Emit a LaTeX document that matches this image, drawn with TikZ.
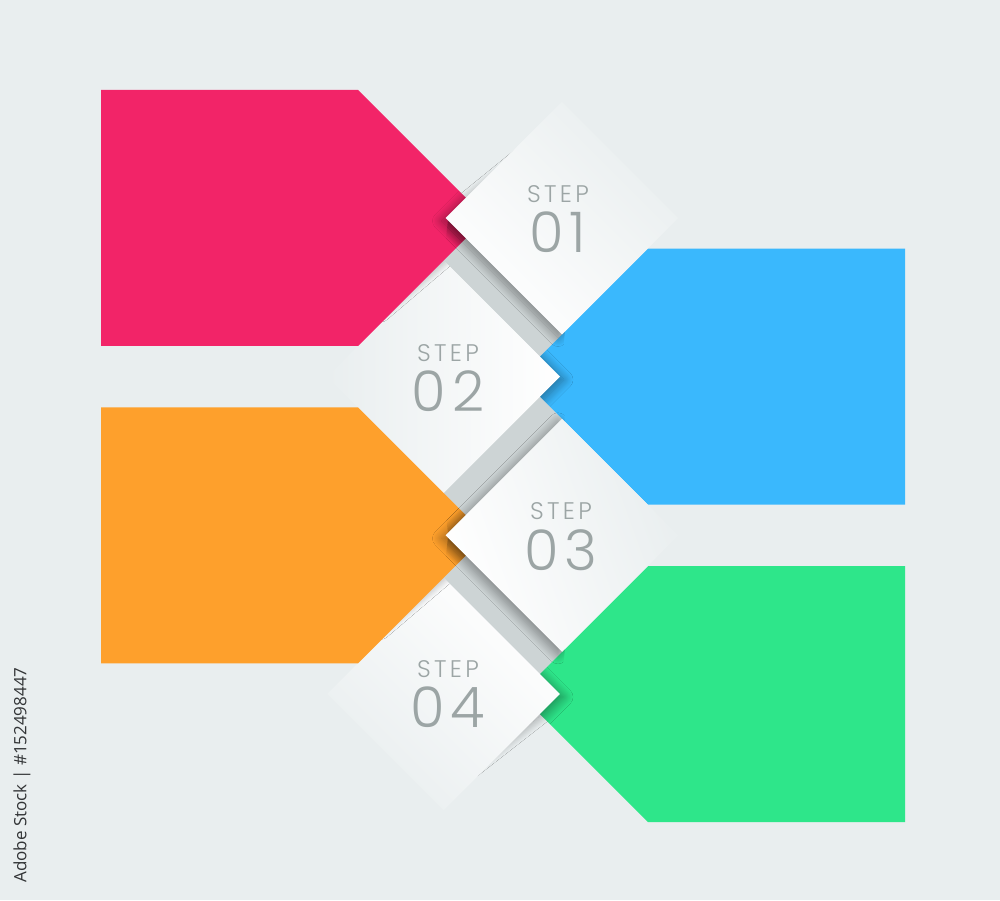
\documentclass[tikz,border=0pt]{standalone}
\usepackage{fontspec}
\newfontfamily\steplabelfont{Poppins Light}[LetterSpace=14]
\newfontfamily\stepnumberfont{Poppins Light}[LetterSpace=10]
\newfontfamily\markfont{Open Sans}
\usepackage{xcolor}
\definecolor{bg}{RGB}{233,238,239}
\definecolor{gap-grey}{RGB}{205,212,213}
\definecolor{label-grey}{RGB}{156,165,165}
\definecolor{mark-grey}{RGB}{50,52,54}
\definecolor{step-pink}{RGB}{242,36,104}
\definecolor{step-blue}{RGB}{58,184,253}
\definecolor{step-orange}{RGB}{254,160,44}
\definecolor{step-green}{RGB}{46,230,138}
\usetikzlibrary{calc,positioning,shapes.geometric,shadows.blur}
\tikzset{
  gap-fill/.style={
    fill=gap-grey
  },
  card-fill/.style={
    fill=#1
  },
  tile/.style={
    shape=diamond,
    minimum width=233pt,
    minimum height=233pt,
    inner sep=0pt,
    draw=none,
    left color=white,
    right color=bg
  },
  soft-shadow/.style={
    blur shadow={shadow xshift=#1, shadow yshift=-3pt, shadow blur radius=9pt, shadow opacity=38, shadow blur steps=16}
  },
  step-label/.style={
    inner sep=0pt,
    text=label-grey,
    font=\steplabelfont\fontsize{24}{28}\selectfont
  },
  step-number/.style={
    inner sep=0pt,
    text=label-grey,
    font=\stepnumberfont\fontsize{56}{60}\selectfont
  },
  mark-label/.style={
    inner sep=0pt,
    text=mark-grey,
    font=\markfont\fontsize{17}{19}\selectfont
  },
}

\begin{document}
\begin{tikzpicture}[x=1pt, y=1pt]

  \def\YONE{682}
  \def\YDELTA{158.67}
  \def\HALF{128}
  \def\TILE{116.5}

  \def\YTWO{\YONE-\YDELTA}
  \def\YTHREE{\YTWO-\YDELTA}
  \def\YFOUR{\YTHREE-\YDELTA}

  \def\XLEFT{101}
  \def\XLEFTEDGE{358}
  \def\XLEFTTIP{486}
  \def\XRIGHT{905}
  \def\XRIGHTEDGE{648}
  \def\XRIGHTTIP{520}
  \def\XTILEA{562}
  \def\XTILEB{443.5}

  \def\leftcard#1{(\XLEFT, #1+\HALF) -- (\XLEFTEDGE, #1+\HALF) -- (\XLEFTTIP, #1) -- (\XLEFTEDGE, #1-\HALF) -- (\XLEFT, #1-\HALF) -- cycle}
  \def\rightcard#1{(\XRIGHT, #1+\HALF) -- (\XRIGHTEDGE, #1+\HALF) -- (\XRIGHTTIP, #1) -- (\XRIGHTEDGE, #1-\HALF) -- (\XRIGHT, #1-\HALF) -- cycle}
  \def\tilepath#1{($(#1)+(\TILE,0)$) -- ($(#1)+(0,\TILE)$) -- ($(#1)+(-\TILE,0)$) -- ($(#1)+(0,-\TILE)$) -- cycle}
  \def\cardpoint#1{(\XLEFTTIP, #1) -- (378, #1-92) -- (410, #1) -- cycle}

  \useasboundingbox (0,0) rectangle (1000,900);
  \fill[bg] (0,0) rectangle (1000,900);

  \coordinate (t1) at (\XTILEA, \YONE);
  \coordinate (t2) at (\XTILEB, \YTWO);
  \coordinate (t3) at (\XTILEA, \YTHREE);
  \coordinate (t4) at (\XTILEB, \YFOUR);

  % gaps between the tiles
  \fill[gap-fill] ($(t1)+(-\TILE,0)$) -- ($(t1)+(0,-\TILE)$) -- ($(t2)+(\TILE,0)$) -- ($(t2)+(0,\TILE)$) -- cycle;
  \fill[gap-fill] ($(t2)+(\TILE,0)$) -- ($(t2)+(0,-\TILE)$) -- ($(t3)+(-\TILE,0)$) -- ($(t3)+(0,\TILE)$) -- cycle;
  \fill[gap-fill] ($(t3)+(-\TILE,0)$) -- ($(t3)+(0,-\TILE)$) -- ($(t4)+(\TILE,0)$) -- ($(t4)+(0,\TILE)$) -- cycle;

  % right cards
  \fill[card-fill=step-blue] \rightcard{\YTWO};
  \fill[card-fill=step-green] \rightcard{\YFOUR};

  % shade of the left tiles
  \begin{scope}
    \clip \rightcard{\YTWO};
    \path[soft-shadow=4pt] \tilepath{t2};
  \end{scope}
  \begin{scope}
    \clip \rightcard{\YFOUR};
    \path[soft-shadow=4pt] \tilepath{t4};
  \end{scope}
  \begin{scope}
    \clip (535,191) -- (135,-209) -- (935,-209) -- cycle;
    \path[soft-shadow=4pt] ($(t4)+(\TILE,0)$) -- ($(t4)+(0.3*\TILE-10,-0.7*\TILE+10)$) -- (t4) -- cycle;
  \end{scope}

  % left tiles
  \node[tile, shading angle=-90] (d2) at (t2) {};
  \node[tile, shading angle=-45] (d4) at (t4) {};

  % shade of the left cards
  \begin{scope}
    \clip \tilepath{t2};
    \path[soft-shadow=3pt] \cardpoint{\YONE};
  \end{scope}
  \begin{scope}
    \clip \tilepath{t4};
    \path[soft-shadow=3pt] \cardpoint{\YTHREE};
  \end{scope}

  % left cards
  \fill[card-fill=step-pink] \leftcard{\YONE};
  \fill[card-fill=step-orange] \leftcard{\YTHREE};

  % shade of the right tiles
  \begin{scope}
    \clip \leftcard{\YONE};
    \path[soft-shadow=-4pt] \tilepath{t1};
  \end{scope}
  \begin{scope}
    \clip ($(t1)+(-\TILE+3,3)$) -- ($(t1)+(3,-\TILE+3)$) -- ($(t2)+(\TILE,0)$) -- ($(t2)+(0,\TILE)$) -- cycle;
    \path[soft-shadow=-4pt] \tilepath{t1};
  \end{scope}
  \begin{scope}
    \clip (468,700) -- (168,1000) -- (768,1000) -- cycle;
    \path[soft-shadow=-4pt] ($(t1)+(-\TILE,0)$) -- ($(t1)+(-0.25*\TILE+9,0.75*\TILE-9)$) -- (t1) -- cycle;
  \end{scope}
  \begin{scope}
    \clip \leftcard{\YTHREE};
    \path[soft-shadow=-4pt] \tilepath{t3};
  \end{scope}
  \begin{scope}
    \clip ($(t2)+(\TILE,0)$) -- ($(t2)+(0,-\TILE)$) -- ($(t3)+(-\TILE+3,-3)$) -- ($(t3)+(3,\TILE-3)$) -- cycle
          ($(t3)+(-\TILE+3,3)$) -- ($(t3)+(3,-\TILE+3)$) -- ($(t4)+(\TILE,0)$) -- ($(t4)+(0,\TILE)$) -- cycle;
    \path[soft-shadow=-4pt] \tilepath{t3};
  \end{scope}

  % right tiles
  \node[tile, shading angle=135] (d1) at (t1) {};
  \node[tile, shading angle=110] (d3) at (t3) {};

  % step labels
  \node[step-label] (s1) at ($(t1)+(-4,24)$) {STEP};
  \node[step-number, below=9pt of s1] (n1) {01};
  \node[step-label] (s2) at ($(t2)+(4.5,24)$) {STEP};
  \node[step-number, below=9pt of s2] (n2) {02};
  \node[step-label] (s3) at ($(t3)+(-1,24)$) {STEP};
  \node[step-number, below=9pt of s3] (n3) {03};
  \node[step-label] (s4) at ($(t4)+(4.5,25)$) {STEP};
  \node[step-number, below=9pt of s4] (n4) {04};

  % side mark
  \node[mark-label, rotate=90] (m) at (22, 125) {Adobe Stock | \#152498447};

\end{tikzpicture}
\end{document}
